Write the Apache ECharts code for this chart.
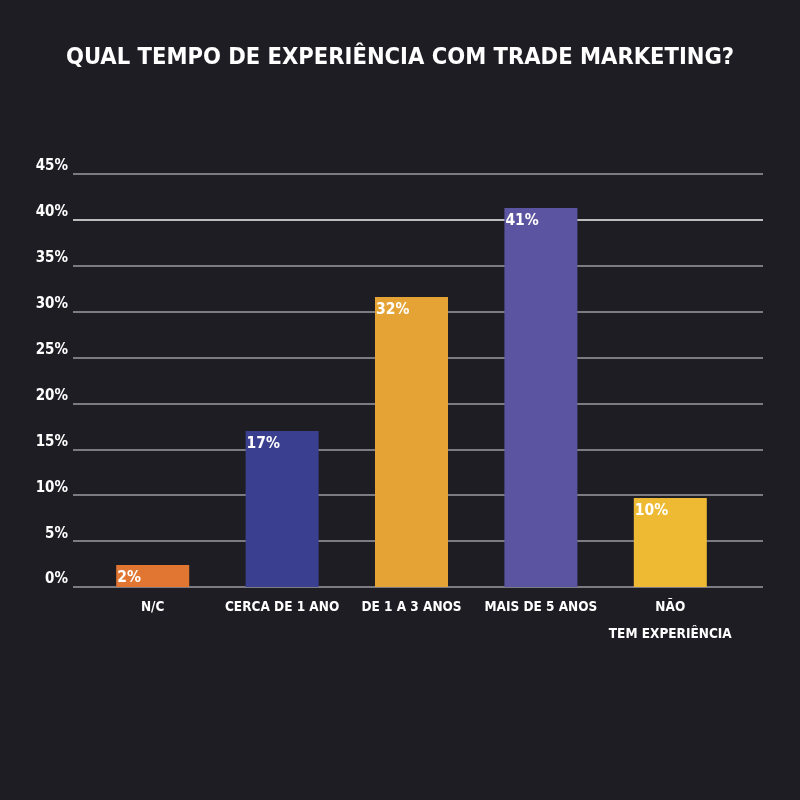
<!DOCTYPE html>
<html>
<head>
<meta charset="utf-8">
<script src="https://cdn.jsdelivr.net/npm/echarts@6/dist/echarts.min.js"></script>
<style>
  html, body { margin: 0; padding: 0; background: #1e1d24; }
  #chart { width: 800px; height: 800px; }
</style>
</head>
<body>
<div id="chart"></div>
<script>
const categories = ['N/C', 'CERCA DE 1 ANO', 'DE 1 A 3 ANOS', 'MAIS DE 5 ANOS', 'NÃO\nTEM EXPERIÊNCIA'];
const values = [2.4, 17, 31.6, 41.3, 9.7];
const barColors = ['#e07632', '#3b3f8f', '#e5a336', '#5b54a0', '#eeba33'];
const yTicks = [0, 5, 10, 15, 20, 25, 30, 35, 40, 45];

const font = '"DejaVu Sans Condensed", "Liberation Sans Narrow", sans-serif';

const chart = echarts.init(document.getElementById('chart'));

// gridline colours: 40% line is brighter than the rest
const lineColors = yTicks.map(t => (t === 40 ? '#f2f2f2' : '#9c9ba3'));

const option = {
  backgroundColor: '#1e1d24',
  animation: false,
  title: {
    text: 'QUAL TEMPO DE EXPERIÊNCIA COM TRADE MARKETING?',
    left: 'center',
    top: 41,
    textStyle: { color: '#ffffff', fontFamily: font, fontWeight: 'bold', fontSize: 23.5 }
  },
  grid: [
    // grid for the gridlines and y labels
    { left: 73, right: 37, top: 174, bottom: 213 },
    // grid for the bars
    { left: 88, right: 65, top: 174, bottom: 213 }
  ],
  xAxis: [
    { type: 'category', gridIndex: 0, data: categories, show: false },
    {
      type: 'category',
      gridIndex: 1,
      data: categories,
      axisLine: { show: false },
      axisTick: { show: false },
      axisLabel: {
        color: '#ffffff',
        fontFamily: font,
        fontWeight: 'bold',
        fontSize: 13.5,
        lineHeight: 27,
        margin: 7,
        interval: 0
      }
    }
  ],
  yAxis: [
    {
      type: 'value',
      gridIndex: 0,
      min: 0,
      max: 45,
      interval: 5,
      axisLine: { show: false },
      axisTick: { show: false },
      splitLine: { lineStyle: { color: lineColors, width: 1.5 } },
      axisLabel: {
        color: '#ffffff',
        fontFamily: font,
        fontWeight: 'bold',
        fontSize: 15,
        margin: 5,
        verticalAlign: 'bottom',
        formatter: v => v + '%'
      }
    },
    { type: 'value', gridIndex: 1, min: 0, max: 45, show: false }
  ],
  series: [
    {
      type: 'bar',
      xAxisIndex: 1,
      yAxisIndex: 1,
      barWidth: 73,
      data: values.map((v, i) => ({ value: v, itemStyle: { color: barColors[i] } })),
      label: {
        show: true,
        position: 'insideTopLeft',
        distance: 2,
        offset: [-1, 3],
        color: '#ffffff',
        fontFamily: font,
        fontWeight: 'bold',
        fontSize: 15.5,
        formatter: p => Math.round(p.value) + '%'
      }
    }
  ]
};

chart.setOption(option);
</script>
</body>
</html>
